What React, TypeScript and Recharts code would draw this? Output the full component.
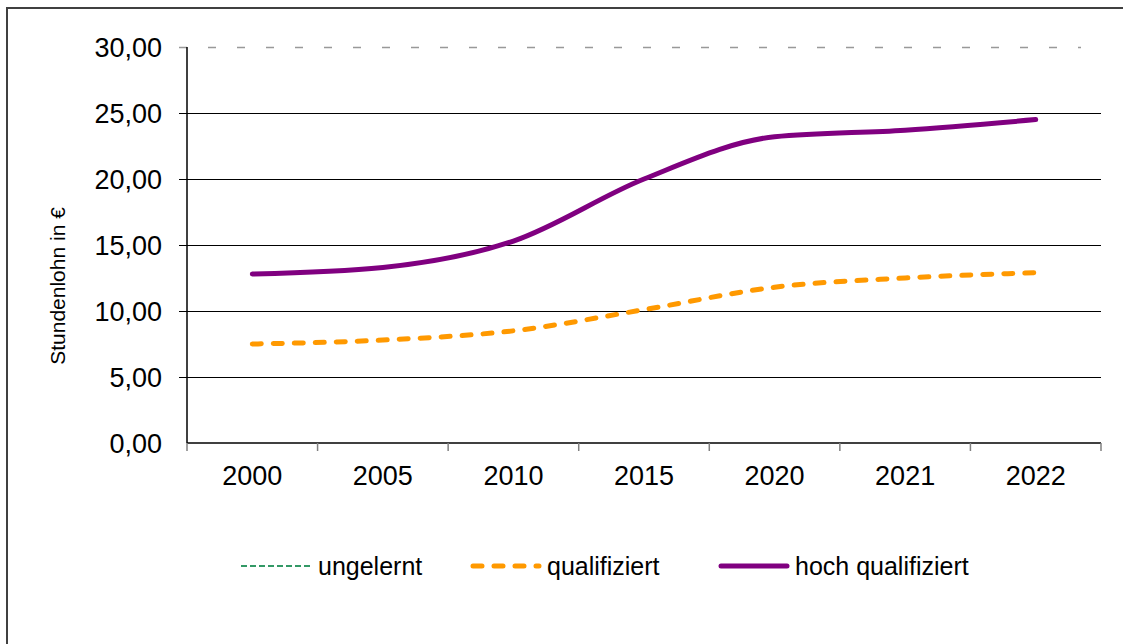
import React from 'react';
import { LineChart, Line, XAxis, YAxis, ReferenceLine, Legend } from 'recharts';

const years = ['2000', '2005', '2010', '2015', '2020', '2021', '2022'];
const ungelernt: (number | null)[] = [null, null, null, null, null, null, null];
const qualifiziert = [7.5, 7.8, 8.5, 10.1, 11.8, 12.5, 12.9];
const hochQualifiziert = [12.8, 13.3, 15.3, 20.0, 23.2, 23.7, 24.5];
const yTicks = [0, 5, 10, 15, 20, 25, 30];
const gridValues = [5, 10, 15, 20, 25];
const seriesNames = ['ungelernt', 'qualifiziert', 'hoch qualifiziert'];

const data = years.map((y, i) => ({
  year: y,
  ungelernt: ungelernt[i],
  qualifiziert: qualifiziert[i],
  hoch: hochQualifiziert[i],
}));

const W = 1123;
const H = 644;
const MARGIN = { top: 47, right: 22, left: 0, bottom: 111 };
const YAXIS_W = 187;
const PLOT_W = W - MARGIN.left - MARGIN.right - YAXIS_W;
const BAND = PLOT_W / years.length;
const FONT = '"Liberation Sans", Arial, sans-serif';

const fmt = (v: number) => v.toFixed(2).replace('.', ',');

const XTick = (props: any) => {
  const { x, y, payload, index } = props;
  const i = payload?.index ?? index ?? 0;
  return (
    <g>
      <line x1={x - BAND / 2} x2={x - BAND / 2} y1={y} y2={y + 8} stroke="#808080" strokeWidth={1.5} />
      {i === years.length - 1 && (
        <line x1={x + BAND / 2} x2={x + BAND / 2} y1={y} y2={y + 8} stroke="#808080" strokeWidth={1.5} />
      )}
      <text x={x} y={y + 42} textAnchor="middle" fontSize={27} fontFamily={FONT} fill="#000">
        {payload.value}
      </text>
    </g>
  );
};

const GridShape = (dashed: boolean) => (p: any) => (
  <line
    x1={p.x1 - 8}
    x2={dashed ? p.x2 - 20 : p.x2}
    y1={Math.round(p.y1) + 0.5}
    y2={Math.round(p.y2) + 0.5}
    stroke={dashed ? '#999' : '#000'}
    strokeWidth={dashed ? 1.5 : 1}
    strokeDasharray={dashed ? '8 21' : undefined}
  />
);

const legendItems = [
  { name: seriesNames[0], color: '#339966', width: 2, dash: '6 3', cap: 'butt', left: 241 },
  { name: seriesNames[1], color: '#FF9900', width: 5, dash: '9 12', cap: 'round', left: 470 },
  { name: seriesNames[2], color: '#800080', width: 5, dash: undefined, cap: 'round', left: 718 },
];

const LegendContent = () => (
  <div style={{ position: 'relative', height: 30, width: W }}>
    {legendItems.map((it) => (
      <div
        key={it.name}
        style={{ position: 'absolute', left: it.left, top: 0, height: 30, display: 'flex', alignItems: 'center' }}
      >
        <svg width={72} height={14}>
          <line
            x1={it.cap === 'round' ? 3 : 0}
            x2={it.cap === 'round' ? 69 : 72}
            y1={7}
            y2={7}
            stroke={it.color}
            strokeWidth={it.width}
            strokeDasharray={it.dash}
            strokeLinecap={it.cap as any}
          />
        </svg>
        <span style={{ marginLeft: 5, fontSize: 25, fontFamily: FONT, color: '#000', whiteSpace: 'nowrap' }}>
          {it.name}
        </span>
      </div>
    ))}
  </div>
);

export default function App() {
  return (
    <div style={{ position: 'fixed', left: 0, top: 0, width: W, height: H, overflow: 'hidden', background: '#fff' }}>
      <div
        style={{
          position: 'absolute',
          left: 6,
          top: 7,
          width: 1400,
          height: 900,
          border: '2px solid #404040',
        }}
      />
      <div style={{ position: 'absolute', left: 0, top: 0 }}>
        <LineChart width={W} height={H} data={data} margin={MARGIN}>
          <XAxis
            dataKey="year"
            height={60}
            tickLine={false}
            tickSize={0}
            tickMargin={0}
            padding={{ left: BAND / 2, right: BAND / 2 }}
            axisLine={{ stroke: '#000', strokeWidth: 1.5 }}
            tick={<XTick />}
            interval={0}
          />
          <YAxis
            width={YAXIS_W}
            domain={[0, 30]}
            ticks={yTicks}
            tickFormatter={fmt}
            tickLine={false}
            tickSize={8}
            tickMargin={17}
            axisLine={{ stroke: '#000', strokeWidth: 1.5 }}
            tick={{ fontSize: 27, fontFamily: FONT, fill: '#000' }}
            label={() => (
              <text
                x={57}
                y={286}
                transform="rotate(-90 57 286)"
                textAnchor="middle"
                dominantBaseline="central"
                fontSize={21}
                fontFamily={FONT}
                fill="#000"
              >
                Stundenlohn in €
              </text>
            )}
          />
          {gridValues.map((v) => (
            <ReferenceLine key={v} y={v} shape={GridShape(false)} ifOverflow="visible" />
          ))}
          <ReferenceLine y={30} shape={GridShape(true)} ifOverflow="visible" />
          <Legend
            verticalAlign="bottom"
            content={<LegendContent />}
            wrapperStyle={{ position: 'absolute', top: 551, left: 0, width: W }}
          />
          <Line
            type="monotone"
            dataKey="ungelernt"
            name={seriesNames[0]}
            stroke="#339966"
            strokeWidth={2}
            strokeDasharray="6 3"
            dot={false}
            isAnimationActive={false}
          />
          <Line
            type="monotone"
            dataKey="qualifiziert"
            name={seriesNames[1]}
            stroke="#FF9900"
            strokeWidth={5}
            strokeDasharray="9 12"
            strokeLinecap="round"
            dot={false}
            isAnimationActive={false}
          />
          <Line
            type="monotone"
            dataKey="hoch"
            name={seriesNames[2]}
            stroke="#800080"
            strokeWidth={5}
            strokeLinecap="round"
            dot={false}
            isAnimationActive={false}
          />
        </LineChart>
      </div>
    </div>
  );
}
